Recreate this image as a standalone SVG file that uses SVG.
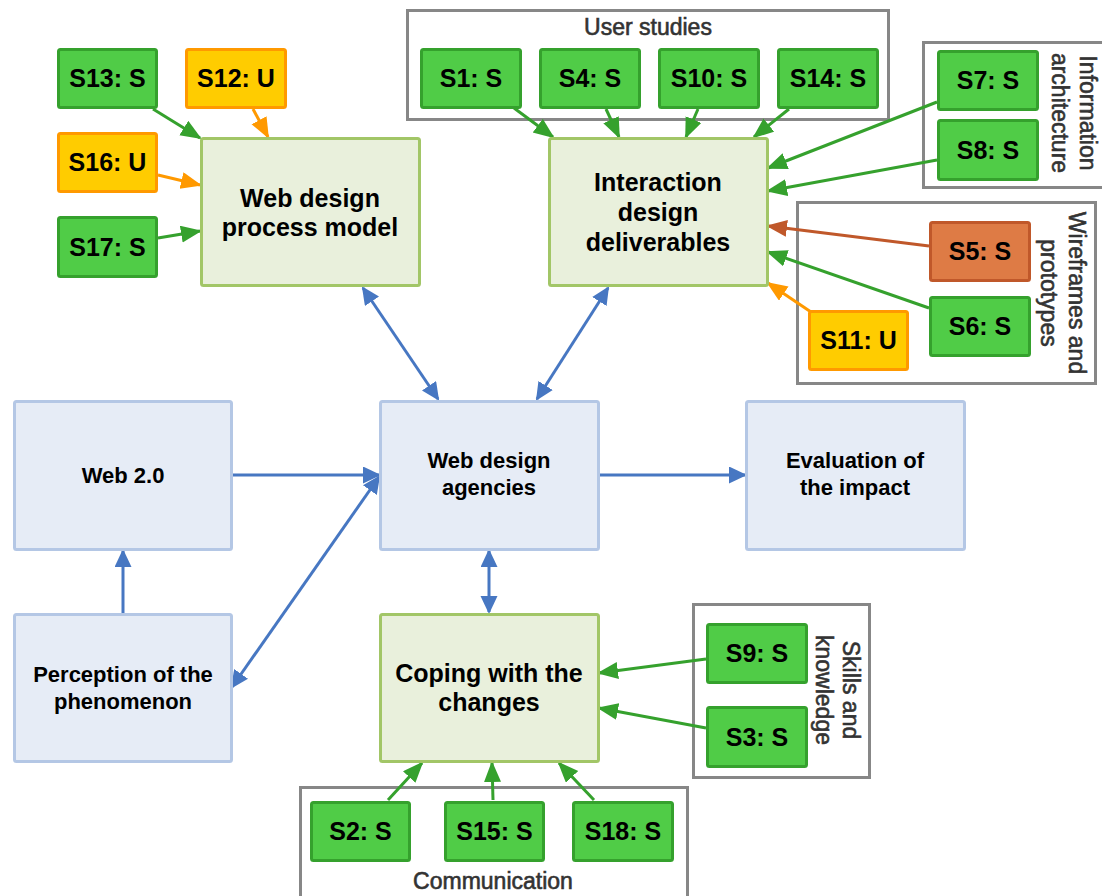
<svg xmlns="http://www.w3.org/2000/svg" width="1102" height="896" viewBox="0 0 1102 896">
  <style>
    .grp { fill: #ffffff; stroke: #878787; stroke-width: 3; }
    .grp-label { font-family: "Liberation Sans", Arial, sans-serif; font-size: 23px; fill: #333333; stroke: #333333; stroke-width: 0.6; text-anchor: middle; }
    .s { fill: #50cc47; stroke: #35a12d; stroke-width: 3; }
    .u { fill: #ffcc00; stroke: #ff9900; stroke-width: 3; }
    .r { fill: #de7b45; stroke: #c0582a; stroke-width: 3; }
    .topic { fill: #e9f0dc; stroke: #a2c667; stroke-width: 3; }
    .core { fill: #e6ecf6; stroke: #b4c7e5; stroke-width: 3; }
    .lbl { font-family: "Liberation Sans", Arial, sans-serif; font-size: 25px; font-weight: bold; fill: #000; text-anchor: middle; }
    .lbl-sm { font-family: "Liberation Sans", Arial, sans-serif; font-size: 22px; font-weight: bold; fill: #000; text-anchor: middle; }
    .c-blue { stroke: #4777c2; stroke-width: 3; fill: none; }
    .c-green { stroke: #35a12d; stroke-width: 3; fill: none; marker-end: url(#ah-green); }
    .c-orange { stroke: #ff9900; stroke-width: 3; fill: none; marker-end: url(#ah-orange); }
    .c-rust { stroke: #c0582a; stroke-width: 3; fill: none; marker-end: url(#ah-rust); }
  </style>
  <defs>
    <marker id="ah-green" markerUnits="userSpaceOnUse" markerWidth="23" markerHeight="18" refX="19" refY="8.5" orient="auto">
      <path d="M0,0 L21,8.5 L0,17 z" fill="#35a12d"/>
    </marker>
    <marker id="ah-orange" markerUnits="userSpaceOnUse" markerWidth="23" markerHeight="18" refX="19" refY="8.5" orient="auto">
      <path d="M0,0 L21,8.5 L0,17 z" fill="#ff9900"/>
    </marker>
    <marker id="ah-rust" markerUnits="userSpaceOnUse" markerWidth="23" markerHeight="18" refX="19" refY="8.5" orient="auto">
      <path d="M0,0 L21,8.5 L0,17 z" fill="#c0582a"/>
    </marker>
    <marker id="ah-blue" markerUnits="userSpaceOnUse" markerWidth="20" markerHeight="18" refX="16" refY="8.5" orient="auto-start-reverse">
      <path d="M0,0 L18,8.5 L0,17 z" fill="#4777c2"/>
    </marker>
  </defs>

  <rect width="1102" height="896" fill="#ffffff"/>

  <!-- category frames -->
  <g id="group-user-studies">
    <rect class="grp" x="407.5" y="10.5" width="481" height="109"/>
    <text class="grp-label" x="648" y="35">User studies</text>
  </g>
  <g id="group-information-architecture">
    <rect class="grp" x="923.5" y="42.5" width="200" height="145"/>
    <g class="grp-label" transform="translate(1080,113) rotate(90)">
      <text x="0" y="0">Information</text>
      <text x="0" y="28">architecture</text>
    </g>
  </g>
  <g id="group-wireframes">
    <rect class="grp" x="797.5" y="202.5" width="298" height="181"/>
    <g class="grp-label" transform="translate(1069,293) rotate(90)">
      <text x="0" y="0">Wireframes and</text>
      <text x="0" y="28">prototypes</text>
    </g>
  </g>
  <g id="group-skills">
    <rect class="grp" x="693.5" y="604.5" width="176" height="173"/>
    <g class="grp-label" transform="translate(843,690) rotate(90)">
      <text x="0" y="0">Skills and</text>
      <text x="0" y="27">knowledge</text>
    </g>
  </g>
  <g id="group-communication">
    <rect class="grp" x="300.5" y="787.5" width="387" height="120"/>
    <text class="grp-label" x="493" y="889">Communication</text>
  </g>

  <!-- connectors -->
  <g id="connectors">
    <line class="c-green" x1="153" y1="109" x2="200" y2="138"/>
    <line class="c-orange" x1="253" y1="109" x2="268" y2="137"/>
    <line class="c-orange" x1="158" y1="175" x2="200" y2="185"/>
    <line class="c-green" x1="158" y1="238" x2="200" y2="231"/>

    <line class="c-green" x1="514" y1="108" x2="553" y2="137"/>
    <line class="c-green" x1="606" y1="109" x2="619" y2="137"/>
    <line class="c-green" x1="698" y1="109" x2="686" y2="137"/>
    <line class="c-green" x1="789" y1="109" x2="754" y2="137"/>
    <line class="c-green" x1="937" y1="102" x2="768" y2="168"/>
    <line class="c-green" x1="937" y1="160" x2="768" y2="191"/>
    <line class="c-rust" x1="929" y1="246" x2="768" y2="226"/>
    <line class="c-green" x1="929" y1="308" x2="768" y2="252"/>
    <line class="c-orange" x1="811" y1="312" x2="768" y2="283"/>

    <line class="c-blue" x1="363" y1="288" x2="438" y2="399" marker-start="url(#ah-blue)" marker-end="url(#ah-blue)"/>
    <line class="c-blue" x1="608" y1="288" x2="537" y2="399" marker-start="url(#ah-blue)" marker-end="url(#ah-blue)"/>
    <line class="c-blue" x1="232" y1="475" x2="379" y2="475" marker-end="url(#ah-blue)"/>
    <line class="c-blue" x1="232" y1="687" x2="379" y2="477" marker-start="url(#ah-blue)" marker-end="url(#ah-blue)"/>
    <line class="c-blue" x1="599" y1="475" x2="745" y2="475" marker-end="url(#ah-blue)"/>
    <line class="c-blue" x1="123" y1="613" x2="123" y2="551" marker-end="url(#ah-blue)"/>
    <line class="c-blue" x1="489" y1="551" x2="489" y2="612" marker-start="url(#ah-blue)" marker-end="url(#ah-blue)"/>

    <line class="c-green" x1="706" y1="659" x2="599" y2="673"/>
    <line class="c-green" x1="706" y1="728" x2="599" y2="708"/>
    <line class="c-green" x1="388" y1="800" x2="422" y2="763"/>
    <line class="c-green" x1="493" y1="800" x2="492" y2="763"/>
    <line class="c-green" x1="594" y1="800" x2="559" y2="763"/>
  </g>

  <!-- main topics -->
  <g id="node-process-model">
    <rect class="topic" x="201.5" y="138.5" width="218" height="147" rx="2"/>
    <text class="lbl" x="310" y="207">Web design</text>
    <text class="lbl" x="310" y="236">process model</text>
  </g>
  <g id="node-interaction-deliverables">
    <rect class="topic" x="549.5" y="138.5" width="218" height="147" rx="2"/>
    <text class="lbl" x="658" y="191">Interaction</text>
    <text class="lbl" x="658" y="221">design</text>
    <text class="lbl" x="658" y="251">deliverables</text>
  </g>
  <g id="node-coping">
    <rect class="topic" x="380.5" y="614.5" width="218" height="147" rx="2"/>
    <text class="lbl" x="489" y="682">Coping with the</text>
    <text class="lbl" x="489" y="711">changes</text>
  </g>

  <g id="node-web20">
    <rect class="core" x="14.5" y="401.5" width="217" height="148" rx="2"/>
    <text class="lbl-sm" x="123" y="483">Web 2.0</text>
  </g>
  <g id="node-agencies">
    <rect class="core" x="380.5" y="401.5" width="218" height="148" rx="2"/>
    <text class="lbl-sm" x="489" y="468">Web design</text>
    <text class="lbl-sm" x="489" y="495">agencies</text>
  </g>
  <g id="node-evaluation">
    <rect class="core" x="746.5" y="401.5" width="218" height="148" rx="2"/>
    <text class="lbl-sm" x="855" y="468">Evaluation of</text>
    <text class="lbl-sm" x="855" y="495">the impact</text>
  </g>
  <g id="node-perception">
    <rect class="core" x="14.5" y="614.5" width="217" height="147" rx="2"/>
    <text class="lbl-sm" x="123" y="682">Perception of the</text>
    <text class="lbl-sm" x="123" y="709">phenomenon</text>
  </g>

  <!-- study nodes -->
  <g id="node-s13"><rect class="s" x="58.5" y="49.5" width="98" height="58" rx="2"/><text class="lbl" x="107.5" y="87">S13: S</text></g>
  <g id="node-s12"><rect class="u" x="186.5" y="49.5" width="99" height="58" rx="2"/><text class="lbl" x="236" y="87">S12: U</text></g>
  <g id="node-s16"><rect class="u" x="58.5" y="133.5" width="98" height="58" rx="2"/><text class="lbl" x="107.5" y="171">S16: U</text></g>
  <g id="node-s17"><rect class="s" x="58.5" y="217.5" width="98" height="59" rx="2"/><text class="lbl" x="107.5" y="256">S17: S</text></g>

  <g id="node-s1"><rect class="s" x="421.5" y="49.5" width="99" height="58" rx="2"/><text class="lbl" x="471" y="87">S1: S</text></g>
  <g id="node-s4"><rect class="s" x="540.5" y="49.5" width="99" height="58" rx="2"/><text class="lbl" x="590" y="87">S4: S</text></g>
  <g id="node-s10"><rect class="s" x="659.5" y="49.5" width="99" height="58" rx="2"/><text class="lbl" x="709" y="87">S10: S</text></g>
  <g id="node-s14"><rect class="s" x="778.5" y="49.5" width="99" height="58" rx="2"/><text class="lbl" x="828" y="87">S14: S</text></g>

  <g id="node-s7"><rect class="s" x="938.5" y="51.5" width="99" height="58" rx="2"/><text class="lbl" x="988" y="89">S7: S</text></g>
  <g id="node-s8"><rect class="s" x="938.5" y="120.5" width="99" height="59" rx="2"/><text class="lbl" x="988" y="159">S8: S</text></g>

  <g id="node-s5"><rect class="r" x="930.5" y="222.5" width="99" height="58" rx="2"/><text class="lbl" x="980" y="260">S5: S</text></g>
  <g id="node-s6"><rect class="s" x="930.5" y="297.5" width="99" height="58" rx="2"/><text class="lbl" x="980" y="335">S6: S</text></g>
  <g id="node-s11"><rect class="u" x="809.5" y="311.5" width="98" height="58" rx="2"/><text class="lbl" x="858.5" y="349">S11: U</text></g>

  <g id="node-s9"><rect class="s" x="707.5" y="624.5" width="99" height="58" rx="2"/><text class="lbl" x="757" y="662">S9: S</text></g>
  <g id="node-s3"><rect class="s" x="707.5" y="707.5" width="99" height="59" rx="2"/><text class="lbl" x="757" y="746">S3: S</text></g>

  <g id="node-s2"><rect class="s" x="311.5" y="802.5" width="98" height="58" rx="2"/><text class="lbl" x="360.5" y="840">S2: S</text></g>
  <g id="node-s15"><rect class="s" x="445.5" y="802.5" width="98" height="58" rx="2"/><text class="lbl" x="494.5" y="840">S15: S</text></g>
  <g id="node-s18"><rect class="s" x="573.5" y="802.5" width="99" height="58" rx="2"/><text class="lbl" x="623" y="840">S18: S</text></g>
</svg>
